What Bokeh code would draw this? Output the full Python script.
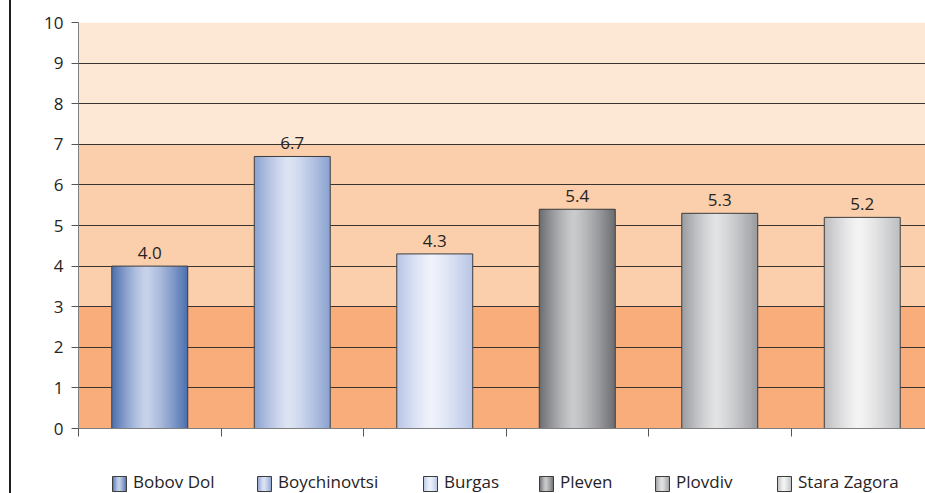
import numpy as np
from bokeh.plotting import figure
from bokeh.layouts import row, column
from bokeh.models import (Range1d, FixedTicker, BoxAnnotation, Legend, LegendItem,
                          ColumnDataSource, Div)
from bokeh.embed import file_html
from bokeh.resources import INLINE
from bokeh.core.properties import value

# ---- data ----
categories = ["Bobov Dol", "Boychinovtsi", "Burgas", "Pleven", "Plovdiv", "Stara Zagora"]
values = [4.0, 6.7, 4.3, 5.4, 5.3, 5.2]
y_ticks = [0, 1, 2, 3, 4, 5, 6, 7, 8, 9, 10]

# ---- styles ----
edge_colors = ["#4a6fae", "#8aa0cf", "#b6c4e5", "#6b6c70", "#9a9b9f", "#bcbdbf"]
center_colors = ["#c8d2ea", "#dde4f3", "#eff2fb", "#cacbcd", "#e2e3e4", "#f4f4f5"]
band_bounds = [(0, 3, "#f9ad7b"), (3, 7, "#fbcfab"), (7, 10, "#fde8d6")]
FONT = "Open Sans"
TXT = "#262324"
OUTLINE = "#3d3d3d"

PAGE_W, PAGE_H = 925, 493
LINE_X, LINE_W = 9, 2
FIG_X = LINE_X + LINE_W
W = PAGE_W - FIG_X
MAIN_H = 445
LEG_H = PAGE_H - MAIN_H
CAT_PX = 142.5
FRAME_X = 78
LEFT = FRAME_X - FIG_X
frame_w = W - LEFT
x_end = -0.5 + frame_w / CAT_PX


def hex2rgb(h):
    h = h.lstrip("#")
    return np.array([int(h[i:i + 2], 16) for i in (0, 2, 4)], dtype=float)


def gradient(i, n):
    e = hex2rgb(edge_colors[i])
    c = hex2rgb(center_colors[i])
    t = (np.arange(n) + 0.5) / n
    d = np.where(t < 0.45, (0.45 - t) / 0.45, (t - 0.45) / 0.55)
    f = 1 - d ** 1.3
    cols = ["#%02x%02x%02x" % tuple(np.round(e + (c - e) * fi).astype(int)) for fi in f]
    return np.arange(n) / n, cols


p = figure(width=W, height=MAIN_H, output_backend="svg", toolbar_location=None,
           x_range=Range1d(-0.5, x_end), y_range=Range1d(0, 10),
           min_border_left=LEFT, min_border_right=0, min_border_top=22,
           min_border_bottom=MAIN_H - 428)
p.outline_line_color = None
p.background_fill_color = "white"
p.border_fill_color = "white"

for lo, hi, col in band_bounds:
    p.add_layout(BoxAnnotation(bottom=lo, top=hi, fill_color=col, fill_alpha=1,
                               line_alpha=0, level="image"))

p.xgrid.grid_line_color = None
p.ygrid.ticker = FixedTicker(ticks=y_ticks)
p.ygrid.grid_line_color = "#3a3430"
p.ygrid.grid_line_width = 1

p.yaxis.ticker = FixedTicker(ticks=y_ticks)
p.yaxis.axis_line_color = "#808080"
p.yaxis.major_tick_line_color = "#555555"
p.yaxis.major_tick_out = 7
p.yaxis.major_tick_in = 0
p.yaxis.minor_tick_line_color = None
p.yaxis.major_label_standoff = 8
p.yaxis.major_label_text_font = FONT
p.yaxis.major_label_text_font_size = "17px"
p.yaxis.major_label_text_color = TXT

bounds = [i - 0.5 for i in range(len(categories) + 1)]
p.xaxis.ticker = FixedTicker(ticks=bounds)
p.xaxis.major_label_overrides = {b: "" for b in bounds}
p.xaxis.axis_line_color = "#808080"
p.xaxis.major_tick_line_color = "#555555"
p.xaxis.major_tick_out = 8
p.xaxis.major_tick_in = 0
p.xaxis.major_label_standoff = 0
p.xaxis.minor_tick_line_color = None

bar_w = 0.533
N = 40
x_pos = np.arange(len(categories))
for i, v in enumerate(values):
    t, cols = gradient(i, N)
    left = i - bar_w / 2 + t * bar_w
    right = np.minimum(left + bar_w / N * 2.0, i + bar_w / 2)
    p.quad(left=left, right=right, bottom=0, top=v, fill_color=cols, line_color=None)
p.vbar(x=x_pos, top=values, width=bar_w, fill_alpha=0, line_color=OUTLINE, line_width=1)

labels = ["%.1f" % v for v in values]
src = ColumnDataSource(dict(x=x_pos, y=values, t=labels))
p.text(x="x", y="y", text="t", source=src, text_align="center",
       text_baseline="alphabetic", y_offset=-13, text_font=value(FONT),
       text_font_size="17px", text_color=TXT)

# ---- legend strip (frame aligned with the main frame by the column layout) ----
leg_x = [112, 257, 423, 539, 655, 777]
SQ_W, SQ_H = 14, 15
SQ_BOTTOM = PAGE_H - 491
p2 = figure(width=W, height=LEG_H, output_backend="svg", toolbar_location=None,
            x_range=Range1d(0, frame_w), y_range=Range1d(0, LEG_H),
            x_axis_type=None, y_axis_type=None,
            min_border_left=LEFT, min_border_right=0, min_border_top=0,
            min_border_bottom=0)
p2.outline_line_color = None
p2.background_fill_color = "white"
p2.border_fill_color = "white"
p2.xgrid.visible = False
p2.ygrid.visible = False

NL = 14
for i, cat in enumerate(categories):
    t, cols = gradient(i, NL)
    x0 = leg_x[i] - FRAME_X
    lft = x0 + t * SQ_W
    rgt = np.minimum(lft + SQ_W / NL * 2.0, x0 + SQ_W)
    p2.quad(left=lft, right=rgt, bottom=SQ_BOTTOM, top=SQ_BOTTOM + SQ_H,
            fill_color=cols, line_color=None)
    p2.quad(left=[x0], right=[x0 + SQ_W], bottom=[SQ_BOTTOM], top=[SQ_BOTTOM + SQ_H],
            fill_alpha=0, line_color=OUTLINE, line_width=1)
    dummy = p2.quad(left=[], right=[], bottom=[], top=[], fill_alpha=0, line_alpha=0)
    lg = Legend(items=[LegendItem(label=cat, renderers=[dummy])],
                location=(x0, 0), padding=0, margin=0, spacing=0,
                border_line_alpha=0, background_fill_alpha=0,
                glyph_width=SQ_W, glyph_height=SQ_H, label_height=SQ_H,
                label_standoff=7, label_text_font=FONT, label_text_font_size="17px",
                label_text_color=TXT)
    p2.add_layout(lg)

spacer = Div(width=LINE_X, height=PAGE_H, margin=0)
vline = Div(width=LINE_W, height=PAGE_H, margin=0,
            styles={"background-color": "#231f20"})
layout = row(spacer, vline, column(p, p2, spacing=0), spacing=0)

open("out.html", "w").write(file_html(layout, INLINE))
